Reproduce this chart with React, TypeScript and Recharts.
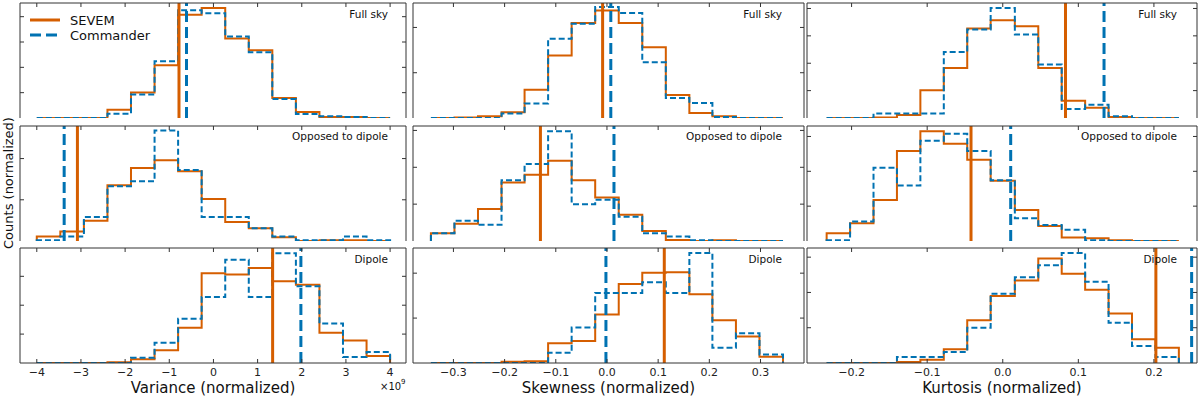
import React from "react";
import { LineChart, Line, XAxis, YAxis, ReferenceLine } from "recharts";

const ORANGE = "#D55E00";
const BLUE = "#0072B2";
const FRAME = "#333";
const FONT = "DejaVu Sans, sans-serif";

// bin edges (15 bins)
const varEdges = [-4, -3.467, -2.933, -2.4, -1.867, -1.333, -0.8, -0.267, 0.267, 0.8, 1.333, 1.867, 2.4, 2.933, 3.467, 4];
const skewEdges = [-0.344, -0.298, -0.252, -0.206, -0.161, -0.115, -0.069, -0.023, 0.023, 0.069, 0.115, 0.161, 0.206, 0.252, 0.298, 0.344];
const kurtEdges = [-0.233, -0.202, -0.171, -0.14, -0.109, -0.078, -0.047, -0.016, 0.016, 0.047, 0.078, 0.109, 0.14, 0.171, 0.202, 0.233];

// tick labels
const varTicks = [-4, -3, -2, -1, 0, 1, 2, 3, 4];
const skewTicks = [-0.3, -0.2, -0.1, 0, 0.1, 0.2, 0.3];
const kurtTicks = [-0.2, -0.1, 0, 0.1, 0.2];

// Full sky
const fullVarSevem = [0, 0, 0, 0.33, 1.01, 2.08, 4.08, 4.34, 3.14, 2.67, 0.79, 0.24, 0.04, 0.04, 0];
const fullVarCommander = [0, 0, 0, 0.17, 0.93, 2.24, 4.25, 4.14, 3.22, 2.6, 0.75, 0.16, 0.07, 0.04, 0];
const fullSkewSevem = [0, 0.01, 0.04, 0.125, 0.625, 1.38, 2.1, 2.375, 2.1, 1.56, 0.51, 0.11, 0.04, 0, 0];
const fullSkewCommander = [0, 0, 0, 0.1, 0.32, 1.75, 2.08, 2.45, 2.32, 1.23, 0.44, 0.33, 0.02, 0, 0];
const fullKurtSevem = [0, 0, 0.02, 0.11, 1.01, 1.83, 3.27, 3.57, 3.35, 1.83, 0.63, 0.37, 0.04, 0, 0];
const fullKurtCommander = [0, 0, 0.16, 0.16, 0.16, 2.41, 3.23, 4.02, 3.05, 1.95, 0.33, 0.48, 0.06, 0, 0];

// Opposed to dipole
const oppVarSevem = [0.11, 0.23, 0.49, 1.35, 1.77, 1.96, 1.69, 1.02, 0.46, 0.31, 0.09, 0, 0.02, 0.02, 0];
const oppVarCommander = [0.02, 0.11, 0.58, 1.33, 1.45, 2.68, 1.72, 0.58, 0.58, 0.31, 0.11, 0.02, 0.02, 0.11, 0.02];
const oppSkewSevem = [0.21, 0.47, 0.87, 1.59, 1.8, 2.18, 1.65, 1.18, 0.71, 0.27, 0.03, 0, 0.02, 0, 0];
const oppSkewCommander = [0.21, 0.55, 0.44, 1.65, 2.09, 2.98, 1.0, 1.12, 0.66, 0.21, 0.12, 0.02, 0, 0, 0];
const oppKurtSevem = [0.22, 0.51, 1.18, 2.58, 3.15, 2.79, 2.33, 1.73, 0.89, 0.43, 0.1, 0.08, 0.02, 0, 0];
const oppKurtCommander = [0.02, 0.56, 2.1, 1.59, 2.88, 3.08, 2.58, 1.74, 0.65, 0.46, 0.32, 0.02, 0, 0, 0];

// Dipole
const dipVarSevem = [0, 0, 0, 0.03, 0.13, 0.44, 1.22, 3.11, 3.06, 3.29, 2.83, 2.71, 1.05, 0.78, 0.24];
const dipVarCommander = [0, 0, 0, 0, 0.18, 0.7, 1.53, 2.28, 3.57, 2.28, 3.8, 2.66, 1.37, 0.21, 0.38];
const dipSkewSevem = [0, 0, 0, 0.03, 0.04, 0.44, 0.49, 1.08, 1.76, 2.01, 2.02, 1.53, 0.95, 0.59, 0.14];
const dipSkewCommander = [0, 0, 0, 0, 0, 0.23, 0.79, 1.56, 1.56, 1.8, 1.56, 2.45, 0.34, 0.66, 0.19];
const dipKurtSevem = [0, 0, 0, 0.03, 0.09, 0.39, 1.21, 1.9, 2.34, 2.96, 2.53, 2.08, 1.4, 0.67, 0.43];
const dipKurtCommander = [0, 0, 0, 0.17, 0.17, 0.31, 1.0, 1.96, 2.43, 2.77, 3.12, 2.3, 1.14, 0.48, 0.17];

// observed values (vertical lines): [SEVEM, Commander]
const fullObserved = [[-0.78, -0.61], [-0.0085, 0.0075], [0.083, 0.134]];
const oppObserved = [[-3.08, -3.38], [-0.13, 0.0137], [-0.042, 0.0105]];
const dipObserved = [[1.34, 1.98], [0.112, -0.002], [0.2026, 0.2499]];

const rowLabels = ["Full sky", "Opposed to dipole", "Dipole"];
const axisTitles = ["Variance (normalized)", "Skewness (normalized)", "Kurtosis (normalized)"];

// layout
const COLS = [
  { x0: 20, x1: 406, domain: [-4.38, 4.36], ticks: varTicks, edges: varEdges },
  { x0: 413, x1: 804, domain: [-0.379, 0.385], ticks: skewTicks, edges: skewEdges },
  { x0: 807, x1: 1197, domain: [-0.259, 0.257], ticks: kurtTicks, edges: kurtEdges },
];
const ROWS = [3, 126, 248];
const ROW_H = 115;
const PAD = 3;
const LAB = 18;
const TICK = 4;

const yTops = [
  [4.54, 2.54, 4.2],
  [2.79, 3.12, 3.3],
  [3.98, 2.56, 3.26],
];
const yTickSets = [
  [[1, 2, 3, 4], [1, 2], [1, 2, 3, 4]],
  [[1, 2], [1, 2, 3], [1, 2, 3]],
  [[1, 2, 3], [1, 2], [1, 2, 3]],
];

const series = [
  [[fullVarSevem, fullVarCommander], [fullSkewSevem, fullSkewCommander], [fullKurtSevem, fullKurtCommander]],
  [[oppVarSevem, oppVarCommander], [oppSkewSevem, oppSkewCommander], [oppKurtSevem, oppKurtCommander]],
  [[dipVarSevem, dipVarCommander], [dipSkewSevem, dipSkewCommander], [dipKurtSevem, dipKurtCommander]],
];
const observed = [fullObserved, oppObserved, dipObserved];

function stepData(edges: number[], s: number[], c: number[]) {
  const pts = [{ x: edges[0], s: 0, c: 0 }];
  s.forEach((v, i) => pts.push({ x: edges[i], s: v, c: c[i] }));
  const last = edges[edges.length - 1];
  pts.push({ x: last, s: s[s.length - 1], c: c[c.length - 1] });
  pts.push({ x: last, s: 0, c: 0 });
  return pts;
}

const fmt = (col: number, v: number) => {
  const s = col === 0 ? String(v) : v.toFixed(1);
  return s.replace("-", "\u2212");
};

// inward ticks, drawn from the axis position recharts hands us
const bottomTick = (col: number, labels: boolean) => (p: any) => (
  <g>
    <line x1={p.x} x2={p.x} y1={p.y} y2={p.y - TICK} stroke={FRAME} strokeWidth={1} />
    {labels && (
      <text x={p.x} y={p.y + 13} textAnchor="middle" fontSize={11} fill="#222" fontFamily={FONT}>
        {fmt(col, p.payload.value)}
      </text>
    )}
  </g>
);
const topTick = (p: any) => <line x1={p.x} x2={p.x} y1={p.y} y2={p.y + TICK} stroke={FRAME} strokeWidth={1} />;
const leftTick = (p: any) => <line x1={p.x} x2={p.x + TICK} y1={p.y} y2={p.y} stroke={FRAME} strokeWidth={1} />;
const rightTick = (p: any) => <line x1={p.x - TICK} x2={p.x} y1={p.y} y2={p.y} stroke={FRAME} strokeWidth={1} />;

function Panel({ row, col }: { row: number; col: number }) {
  const c = COLS[col];
  const w = c.x1 - c.x0;
  const labels = row === 2;
  const [sev, com] = series[row][col];
  const [oSev, oCom] = observed[row][col];
  const data = stepData(c.edges, sev, com);
  const yTop = yTops[row][col];
  const yTicks = yTickSets[row][col];
  return (
    <div style={{ position: "absolute", left: c.x0 - PAD, top: ROWS[row] - PAD }}>
      <LineChart
        width={w + 2 * PAD}
        height={ROW_H + 2 * PAD + (labels ? LAB : 0)}
        data={data}
        margin={{ top: PAD - 1, right: PAD - 1, bottom: PAD, left: PAD - 1 }}
      >
        <XAxis
          dataKey="x"
          type="number"
          domain={c.domain}
          ticks={c.ticks}
          allowDataOverflow
          interval={0}
          height={labels ? LAB : 0}
          tickSize={0}
          tickMargin={0}
          tickLine={false}
          stroke={FRAME}
          tick={bottomTick(col, labels)}
        />
        <XAxis
          xAxisId="t"
          dataKey="x"
          orientation="top"
          type="number"
          domain={c.domain}
          ticks={c.ticks}
          allowDataOverflow
          interval={0}
          height={1}
          tickSize={0}
          tickMargin={0}
          tickLine={false}
          stroke={FRAME}
          tick={topTick}
        />
        <YAxis
          type="number"
          domain={[0, yTop]}
          ticks={yTicks}
          allowDataOverflow
          interval={0}
          width={1}
          tickSize={0}
          tickMargin={0}
          tickLine={false}
          stroke={FRAME}
          tick={leftTick}
        />
        <YAxis
          yAxisId="r"
          orientation="right"
          type="number"
          domain={[0, yTop]}
          ticks={yTicks}
          allowDataOverflow
          interval={0}
          width={1}
          tickSize={0}
          tickMargin={0}
          tickLine={false}
          stroke={FRAME}
          tick={rightTick}
        />
        <Line
          xAxisId="t"
          yAxisId="r"
          dataKey="s"
          stroke="none"
          dot={false}
          activeDot={false}
          legendType="none"
          isAnimationActive={false}
        />
        <Line
          dataKey="s"
          type="stepAfter"
          stroke={ORANGE}
          strokeWidth={2}
          dot={false}
          activeDot={false}
          isAnimationActive={false}
        />
        <Line
          dataKey="c"
          type="stepAfter"
          stroke={BLUE}
          strokeWidth={2}
          strokeDasharray="6 3"
          dot={false}
          activeDot={false}
          isAnimationActive={false}
        />
        <ReferenceLine x={oSev} stroke={ORANGE} strokeWidth={3} />
        <ReferenceLine x={oCom} stroke={BLUE} strokeWidth={3} strokeDasharray="11 5" />
      </LineChart>
    </div>
  );
}

export default function App() {
  const rowLabelY = [14, 136, 259];
  const labelRight = [388, 782, 1177];
  return (
    <div style={{ position: "absolute", left: 0, top: 0, width: 1200, height: 397, background: "#fff", fontFamily: FONT }}>
      {ROWS.map((_, r) => COLS.map((__, c) => <Panel key={`${r}-${c}`} row={r} col={c} />))}
      <svg width={1200} height={397} style={{ position: "absolute", left: 0, top: 0, pointerEvents: "none" }}>
        {rowLabels.map((lab, r) =>
          labelRight.map((x, c) => (
            <text key={`${r}-${c}`} x={x} y={rowLabelY[r]} textAnchor="end" dominantBaseline="central" fontSize={10.5} fill="#111" fontFamily={FONT}>
              {lab}
            </text>
          ))
        )}
        {axisTitles.map((t, c) => (
          <text key={t} x={(COLS[c].x0 + COLS[c].x1) / 2} y={388} textAnchor="middle" dominantBaseline="central" fontSize={15} fill="#111" fontFamily={FONT}>
            {t}
          </text>
        ))}
        <text x={380} y={386} fontSize={10} fill="#111" fontFamily={FONT} dominantBaseline="central">
          ×10<tspan fontSize={7} dy={-4}>9</tspan>
        </text>
        <text transform="rotate(-90 8 183)" x={8} y={183} textAnchor="middle" dominantBaseline="central" fontSize={13} fill="#111" fontFamily={FONT}>
          Counts (normalized)
        </text>
        <line x1={30} x2={60} y1={20} y2={20} stroke={ORANGE} strokeWidth={3} />
        <text x={70} y={20} fontSize={13} fill="#111" fontFamily={FONT} dominantBaseline="central">SEVEM</text>
        <line x1={30} x2={60} y1={35} y2={35} stroke={BLUE} strokeWidth={3} strokeDasharray="11 5" />
        <text x={70} y={35} fontSize={13} fill="#111" fontFamily={FONT} dominantBaseline="central">Commander</text>
      </svg>
    </div>
  );
}
